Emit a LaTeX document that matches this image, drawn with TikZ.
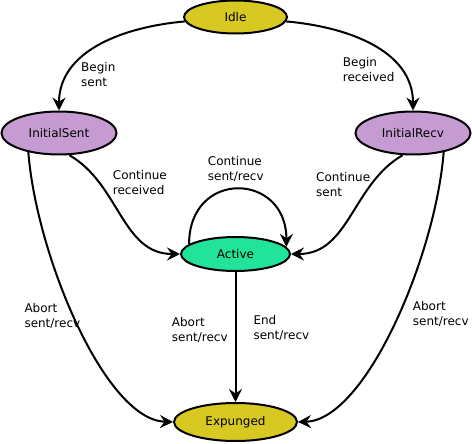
\documentclass[tikz,border=0pt]{standalone}
\usepackage{fontspec}
\setmainfont{DejaVu Sans}
\usepackage{xcolor}
\usepackage{tikz}
\usetikzlibrary{shapes.geometric, arrows.meta, positioning}
\definecolor{idleyellow}{RGB}{216,200,34}
\definecolor{initviolet}{RGB}{198,155,210}
\definecolor{activegreen}{RGB}{34,227,154}
\tikzstyle{arrow} = [line width=2pt,-{Stealth[length=13pt,width=13pt,inset=4.5pt]}]

\begin{document}
\begin{tikzpicture}[x=1pt, y=1pt,
    state/.style={draw, ellipse, line width=2pt, inner sep=0pt, font=\fontsize{12}{15}\selectfont},
    lbl/.style={anchor=north west, inner sep=0pt, align=left, font=\fontsize{12}{15}\selectfont}
]
\useasboundingbox (0,0) rectangle (472,-444);
% states
\node[state, fill=idleyellow, minimum width=103pt, minimum height=33pt] (idle) at (235.5,-17) {Idle};
\node[state, fill=initviolet, minimum width=115pt, minimum height=43pt] (isent) at (59,-133) {InitialSent};
\node[state, fill=initviolet, minimum width=115pt, minimum height=43pt] (irecv) at (413,-133) {InitialRecv};
\node[state, fill=activegreen, minimum width=109pt, minimum height=34pt] (active) at (235.5,-254) {Active};
\node[state, fill=idleyellow, minimum width=123pt, minimum height=38pt] (expunged) at (235.5,-422) {Expunged};

% transitions
\draw[arrow] (idle.185) to[out=185, in=90] (isent.north);
\draw[arrow] (idle.-5) to[out=-5, in=90] (irecv.north);
\draw[arrow] (isent.-65) to[out=-30, in=180] (active.west);
\draw[arrow] (irecv.-115) to[out=210, in=0] (active.east);
\draw[arrow] (active.168) .. controls +(0,75) and +(0,75) .. (active.8);
\draw[arrow] (isent.-148) .. controls +(8,-103) and +(-68,2) .. (expunged.west);
\draw[arrow] (irecv.-32) .. controls +(-8,-103) and +(68,2) .. (expunged.east);
\draw[arrow] (active.south) -- (expunged.north);

% labels
\node[lbl] (lbegins) at (81,-61.7) {Begin\\sent};
\node[lbl] (lbeginr) at (342.7,-56.7) {Begin\\received};
\node[lbl] (lcontr) at (112.7,-170) {Continue\\received};
\node[lbl] (lconts) at (316,-171.7) {Continue\\sent};
\node[lbl] (lcontsr) at (207.7,-155.7) {Continue\\sent/recv};
\node[lbl] (labortl) at (24.3,-302.7) {Abort\\sent/recv};
\node[lbl] (labortm) at (171.7,-316.7) {Abort\\sent/recv};
\node[lbl] (lend) at (253.3,-315) {End\\sent/recv};
\node[lbl] (labortr) at (412.7,-300.7) {Abort\\sent/recv};
\end{tikzpicture}
\end{document}
